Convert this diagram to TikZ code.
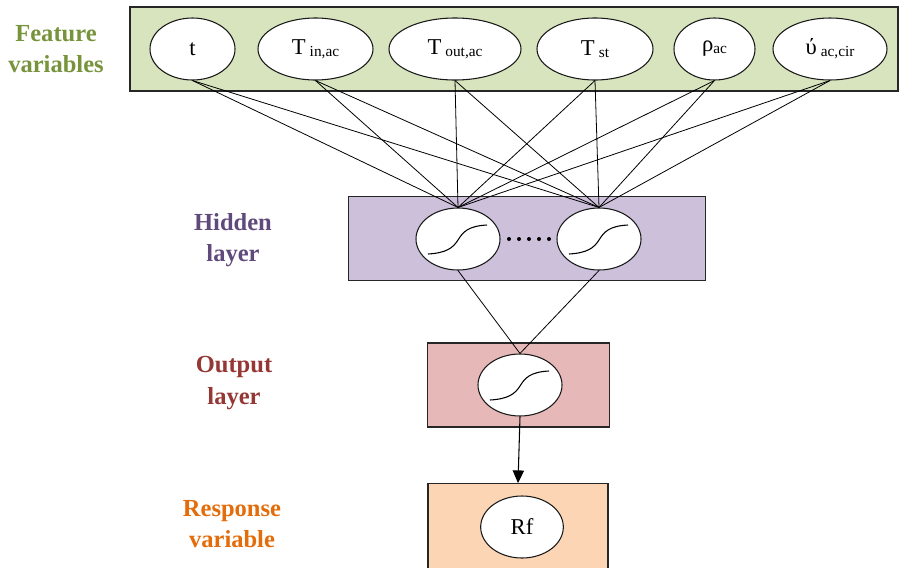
\documentclass[tikz,border=0pt]{standalone}
\usepackage{fontspec}
\setmainfont{Liberation Serif}
\usepackage{tikz}
\usetikzlibrary{arrows.meta,shapes.geometric}

\definecolor{featfill}{HTML}{D7E4BD}
\definecolor{hidfill}{HTML}{CCC0DA}
\definecolor{outfill}{HTML}{E6B9B8}
\definecolor{respfill}{HTML}{FCD5B5}
\definecolor{feattxt}{HTML}{77933C}
\definecolor{hidtxt}{HTML}{604A7B}
\definecolor{outtxt}{HTML}{953735}
\definecolor{resptxt}{HTML}{E46C0A}

\newcommand{\lo}[1]{{\fontsize{11.5}{13}\selectfont\raisebox{-1.5pt}{#1}}}

\begin{document}
\begin{tikzpicture}[x=0.75pt,y=-0.75pt,
    box/.style={draw=black!85,line width=0.9pt,inner sep=0pt},
    unit/.style={ellipse,draw=black!90,line width=0.8pt,fill=white,inner sep=0pt,
      minimum height=46.5pt,font=\fontsize{17}{20}\selectfont},
    lbl/.style={align=center,font=\fontsize{18.4}{23.3}\selectfont\bfseries},
    conn/.style={line width=0.6pt}]
    \useasboundingbox (0,0) rectangle (904,568);
    % layer boxes
    \node[box,fill=featfill,minimum width=576pt,minimum height=63pt] (featbox) at (514,49) {};
    \node[box,fill=hidfill,minimum width=268pt,minimum height=63pt] (hidbox) at (527,238.5) {};
    \node[box,fill=outfill,minimum width=137pt,minimum height=63pt] (outbox) at (518.5,385) {};
    \node[box,fill=respfill,minimum width=135pt,minimum height=68pt] (respbox) at (518,529) {};
    % layer labels
    \node[lbl,text=feattxt] (featlbl) at (56,49) {Feature\\variables};
    \node[lbl,text=hidtxt] (hidlbl) at (233,240) {Hidden\\layer};
    \node[lbl,text=outtxt] (outlbl) at (234,383) {Output\\layer};
    \node[lbl,text=resptxt] (resplbl) at (232,524) {Response\\variable};
    % feature variables
    \node[unit,minimum width=63.75pt] (t) at (192.5,49) {t};
    \node[unit,minimum width=86.25pt] (tin) at (315.5,49) {T\kern3pt\lo{in,ac}};
    \node[unit,minimum width=99pt] (tout) at (455,49) {T\kern3pt\lo{out,ac}};
    \node[unit,minimum width=87pt] (tst) at (595,49) {T\kern3pt\lo{st}};
    \node[unit,minimum width=60.75pt] (rho) at (714.5,49) {ρ\lo{ac}};
    \node[unit,minimum width=85.5pt] (nu) at (830,49) {ύ\kern3pt\lo{ac,cir}};
    % neurons
    \node[unit,minimum width=63pt] (h1) at (458,239) {};
    \node[unit,minimum width=63pt] (h2) at (599,239) {};
    \node[unit,minimum width=63pt] (o1) at (520,385) {};
    \node[unit,minimum width=62pt] (rf) at (522,527) {Rf};
    \foreach \i in {0,...,4}
      \fill (509+\i*10,239) circle (2);
    % sigmoid curves
    \foreach \n in {h1,h2,o1}
      \draw[line width=0.8pt,shift={(\n.center)}]
        (-30,15) .. controls (-12,14) and (-5,9) .. (0,1)
        .. controls (5,-7) and (10,-13) .. (29,-14);
    % connections
    \foreach \f in {t,tin,tout,tst,rho,nu}
      \foreach \h in {h1,h2}
        \draw[conn] (\f.south) -- (\h.north);
    \foreach \h in {h1,h2}
      \draw[conn] (\h.south) -- (o1.north);
    \draw[line width=0.8pt,-{Triangle[width=8.5pt,length=9.5pt]}] (o1.south) -- (respbox.north);
\end{tikzpicture}
\end{document}
